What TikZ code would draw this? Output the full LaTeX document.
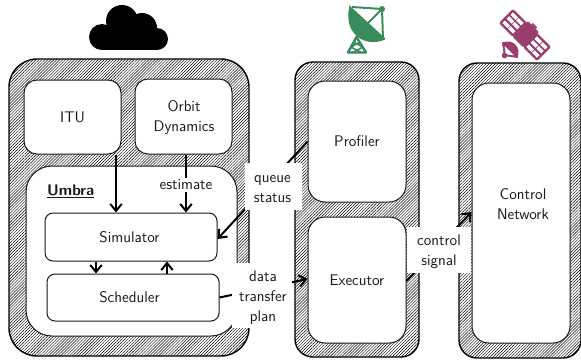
\documentclass[tikz,border=0pt]{standalone}
\usepackage{fontspec}
\usetikzlibrary{patterns.meta,arrows.meta,calc}
\definecolor{dishgreen}{HTML}{3B8C5C}
\definecolor{satmag}{HTML}{9A3D6F}
\tikzset{
  x=1pt,y=-1pt,
  every node/.style={font=\sffamily\fontsize{15.4}{20}\selectfont,align=center,text=black!90},
  hatchbox/.style={draw=black,line width=1.4pt,rounded corners=28pt,pattern={Lines[angle=45,distance=2.1pt,line width=0.45pt]},inner sep=0pt},
  panelbox/.style={draw=black!90,line width=1pt,fill=white,inner sep=0pt},
  conn/.style={draw=black,line width=2pt,-{Straight Barb[length=7pt,width=11.5pt,line width=2pt]}},
  patchbox/.style={fill=white,inner sep=0pt},
  txt/.style={inner sep=0pt}
}
\begin{document}
\begin{tikzpicture}
\useasboundingbox (0,0) rectangle (581,360);
% outer hatched boxes
\node[hatchbox,minimum width=240pt,minimum height=297pt] (cloudbox) at (129,207.5) {};
\node[hatchbox,rounded corners=18pt,minimum width=124pt,minimum height=295pt] (gsbox) at (357,209.5) {};
\node[hatchbox,rounded corners=18pt,minimum width=122pt,minimum height=295pt] (satbox) at (520,210.5) {};
% inner boxes
\node[panelbox,rounded corners=13pt,minimum width=97pt,minimum height=74pt] (itu) at (72.5,117) {\raisebox{-1pt}{ITU}};
\node[panelbox,rounded corners=13pt,minimum width=97pt,minimum height=75pt] (orbit) at (183.5,116.5) {};
\node[txt] (orbittext) at (184,118) {Orbit\\Dynamics};
\node[panelbox,rounded corners=26pt,minimum width=211pt,minimum height=170pt] (umbra) at (131.5,251) {};
\node[panelbox,rounded corners=17pt,minimum width=98pt,minimum height=121pt] (profiler) at (357,141.5) {\raisebox{-2pt}{Profiler}};
\node[panelbox,rounded corners=17pt,minimum width=98pt,minimum height=126pt] (executor) at (357,280) {\raisebox{-1.5pt}{Executor}};
\node[panelbox,rounded corners=17pt,minimum width=98pt,minimum height=260pt] (control) at (521,213) {};
\node[txt] (controltext) at (523,204) {Control\\Network};
\node[panelbox,rounded corners=8pt,minimum width=172pt,minimum height=48pt] (sim) at (131,237) {\hspace*{-3pt}Simulator};
\node[panelbox,rounded corners=8pt,minimum width=172pt,minimum height=47pt] (sched) at (133,297.5) {\hspace*{-7pt}\raisebox{-2pt}{Scheduler}};
\node[txt,anchor=west] (umbralabel) at (47,191) {\textbf{\underline{Umbra}}};
% connectors
\draw[conn] ([xshift=43.5pt]itu.south) -- ([xshift=-15pt]sim.north);
\draw[conn] ([xshift=2.5pt]orbit.south) -- ([xshift=55pt]sim.north);
\draw[conn] ([xshift=-35pt]sim.south) -- ([xshift=-37pt]sched.north);
\draw[conn] ([xshift=34pt]sched.north) -- ([xshift=36pt]sim.south);
\draw[conn] (profiler.west) -- ([yshift=-2pt]sim.east);
\draw[conn] (sched.east) -- ([yshift=1pt]executor.west);
\draw[conn] ([yshift=-1pt]executor.east) -- ([yshift=1pt]control.west);
% label patches
\node[patchbox,minimum width=57pt,minimum height=47pt] (queuepatch) at (273.5,186.5) {};
\node[txt] (queue) at (272.5,189) {queue\\status};
\node[patchbox,minimum width=60pt,minimum height=65pt] (planpatch) at (262,295.5) {};
\node[txt] (plan) at (263,297.5) {data\\transfer\\plan};
\node[patchbox,minimum width=64pt,minimum height=46pt] (signalpatch) at (439,250) {};
\node[txt] (signal) at (439,252) {control\\signal};
\node[fill=white,inner sep=1.5pt] (estimate) at (186,185) {estimate};
% cloud
\fill[black] (102,25) rectangle (157,50);
\fill[black] (102,37) circle[radius=13];
\fill[black] (157,39) circle[radius=11];
\fill[black] (122,21) circle[radius=16];
\fill[black] (142,28) circle[radius=15];
% dish
\fill[dishgreen,rounded corners=1pt] (349.5,5.5) -- (386,39) .. controls (376,44) and (362,43) .. (354,33)
  .. controls (347,25) and (348,13) .. (349.5,5.5) -- cycle;
\draw[dishgreen,line width=2pt,line join=round] (352,7) -- (382,9) -- (383,39);
\draw[dishgreen,line width=2pt] (382,9) -- (367,24);
\fill[dishgreen] (382,9) circle[radius=3];
\draw[dishgreen,line width=2.4pt,line join=round] (348,52.5) -- (356.5,37) -- (366,52.5) -- cycle;
\draw[dishgreen,line width=1.6pt] (351,47) -- (362,53) (363,47) -- (352,53) (353,42) -- (363,47) (360,42) -- (351,47);
% satellite
\begin{scope}[shift={(525,35)},rotate=45]
  \fill[satmag,rounded corners=1.5pt] (-10,-8) rectangle (12,8);
  \fill[satmag] (12,-3) rectangle (14,3);
  \foreach \cy in {-17,17}{
    \fill[satmag,rounded corners=1.5pt] (-10,\cy-10) rectangle (10,\cy+10);
    \foreach \hx in {-7.5,-1.5,4}{
      \foreach \hy in {-7.5,0.5}{
        \fill[white] (\hx,\cy+\hy) rectangle ++(3.5,7);
      }
    }
  }
  \fill[satmag] (-21,-10.5) .. controls (-11,-6) and (-11,6) .. (-21,10.5) -- cycle;
  \draw[satmag,line width=2pt,line join=round] (-21,-10) -- (-28.5,0) -- (-21,10) -- cycle;
  \fill[satmag] (-29,0) circle[radius=2.8];
\end{scope}
\end{tikzpicture}
\end{document}
